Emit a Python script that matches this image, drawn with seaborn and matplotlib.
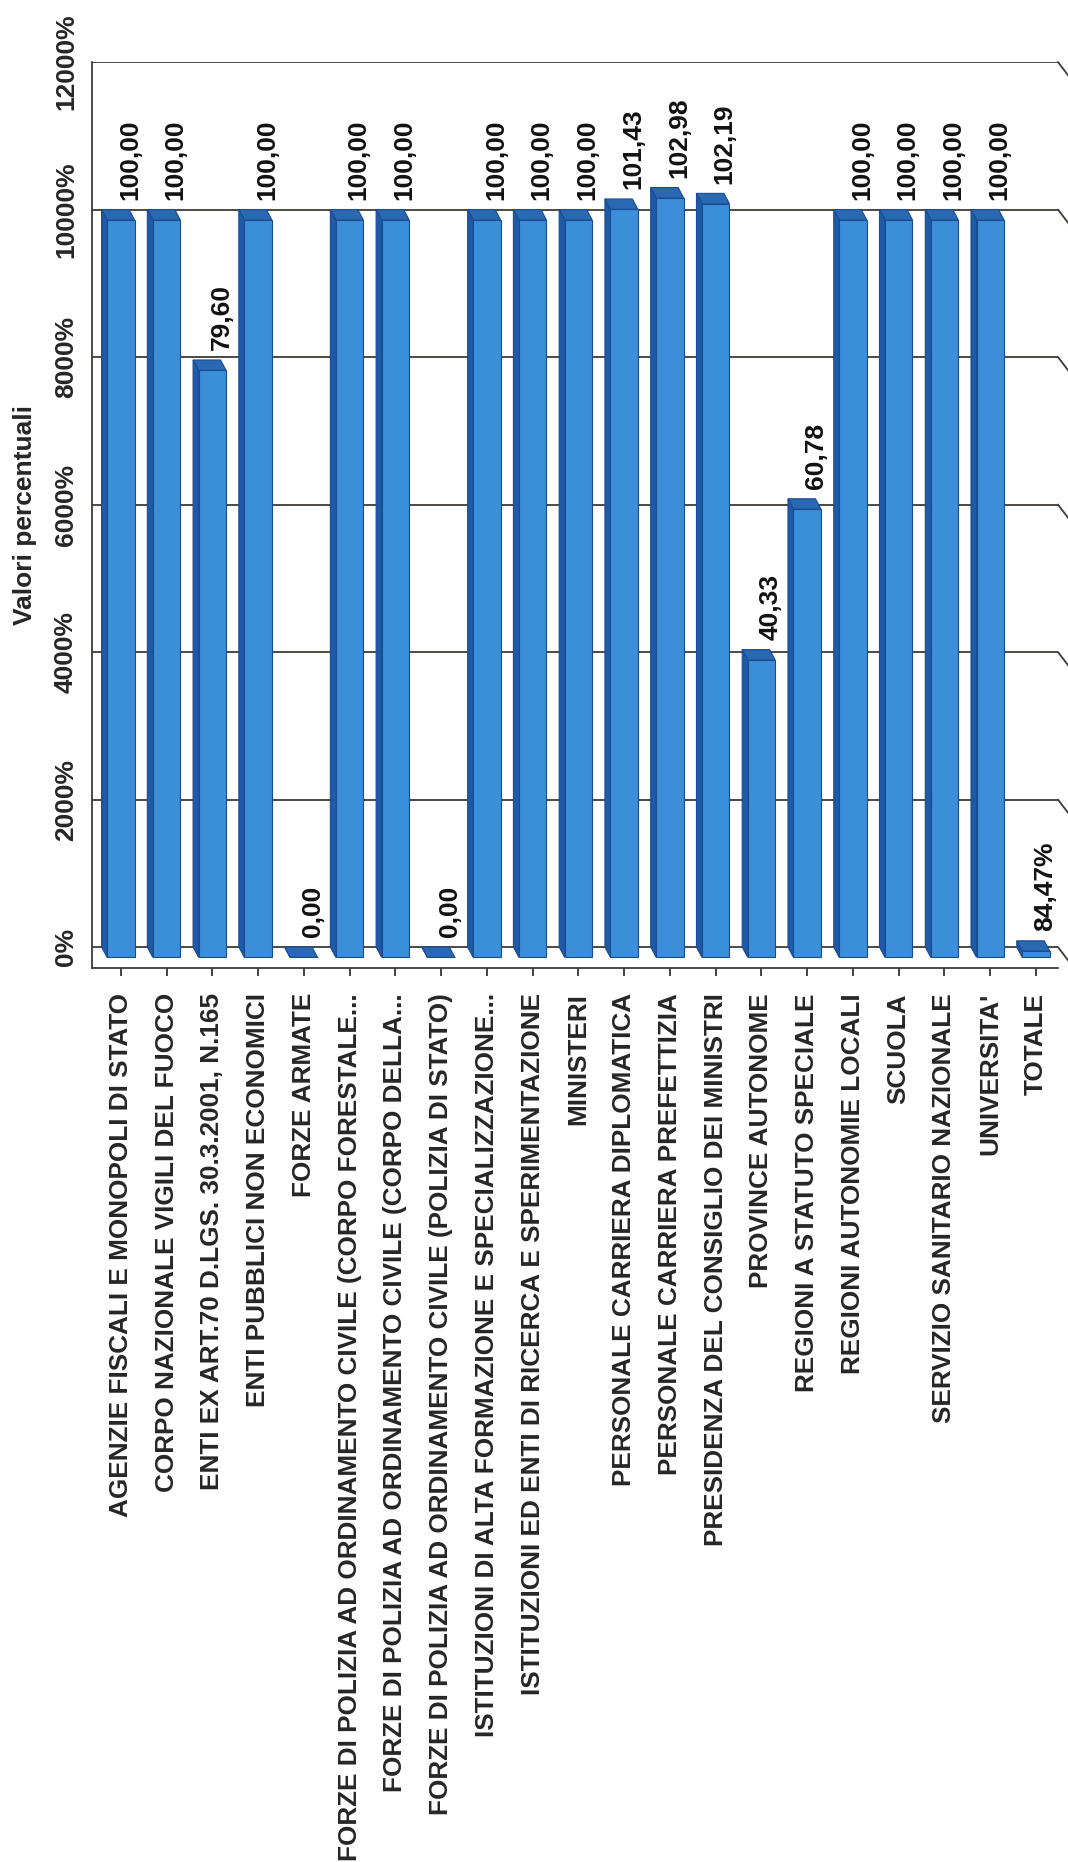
import matplotlib
matplotlib.use("Agg")
import matplotlib.pyplot as plt
import seaborn as sns
import pandas as pd
from matplotlib.patches import Polygon
from matplotlib.ticker import FuncFormatter

# ------------------------------------------------
# DATA
# ------------------------------------------------

categories = [
    "AGENZIE FISCALI E MONOPOLI DI STATO",
    "CORPO NAZIONALE VIGILI DEL FUOCO",
    "ENTI EX ART.70 D.LGS. 30.3.2001, N.165",
    "ENTI PUBBLICI NON ECONOMICI",
    "FORZE ARMATE",
    "FORZE DI POLIZIA AD ORDINAMENTO CIVILE (CORPO FORESTALE...",
    "FORZE DI POLIZIA AD ORDINAMENTO CIVILE (CORPO DELLA...",
    "FORZE DI POLIZIA AD ORDINAMENTO CIVILE (POLIZIA DI STATO)",
    "ISTITUZIONI DI ALTA FORMAZIONE E SPECIALIZZAZIONE...",
    "ISTITUZIONI ED ENTI DI RICERCA E SPERIMENTAZIONE",
    "MINISTERI",
    "PERSONALE CARRIERA DIPLOMATICA",
    "PERSONALE CARRIERA PREFETTIZIA",
    "PRESIDENZA DEL CONSIGLIO DEI MINISTRI",
    "PROVINCE AUTONOME",
    "REGIONI A STATUTO SPECIALE",
    "REGIONI AUTONOMIE LOCALI",
    "SCUOLA",
    "SERVIZIO SANITARIO NAZIONALE",
    "UNIVERSITA'",
    "TOTALE",
]

values = [100.00, 100.00, 79.60, 100.00, 0.00, 100.00, 100.00, 0.00,
          100.00, 100.00, 100.00, 101.43, 102.98, 102.19, 40.33, 60.78,
          100.00, 100.00, 100.00, 100.00, 0.8447]

y_ticks = [0, 20, 40, 60, 80, 100, 120]

# ------------------------------------------------
# STYLE
# ------------------------------------------------

sns.set_theme(style="white")
plt.rcParams["font.family"] = ["Liberation Sans", "DejaVu Sans"]
plt.rcParams["font.weight"] = "bold"

FRONT = "#3b8ed8"
SIDE = "#1d5aa8"
TOP = "#2a68b2"
EDGE = "#1a4c94"
LINE = "#3f3a36"
DX = 0.12      # depth in category units
DY = 1.4       # depth in value units
FLOOR = 2.85   # floor depth in value units

df = pd.DataFrame({"categoria": categories, "valore": values})

fig = plt.figure(figsize=(10.68, 18.62), dpi=100)
ax = fig.add_axes([0.0861, 0.4801, 0.9045, 0.4866])

sns.barplot(data=df, x="categoria", y="valore", color=FRONT,
            saturation=1, width=0.6, ax=ax, zorder=3)

# fake 3D: push front faces down, add top and side faces
for p in ax.patches:
    x0 = p.get_x()
    w = p.get_width()
    h = p.get_height()
    p.set_y(-DY)
    p.set_edgecolor(EDGE)
    p.set_linewidth(0.8)
    p.set_clip_on(False)
    top = Polygon([(x0, h - DY), (x0 + w, h - DY), (x0 + w - DX, h), (x0 - DX, h)],
                  closed=True, facecolor=TOP, edgecolor=EDGE, lw=0.8,
                  zorder=4, clip_on=False)
    side = Polygon([(x0 - DX, 0), (x0, -DY), (x0, h - DY), (x0 - DX, h)],
                   closed=True, facecolor=SIDE, edgecolor=EDGE, lw=0.8,
                   zorder=4, clip_on=False)
    ax.add_patch(top)
    ax.add_patch(side)

# value labels
for i, v in enumerate(values):
    if categories[i] == "TOTALE":
        txt = f"{v * 100:.2f}%".replace(".", ",")
    else:
        txt = f"{v:.2f}".replace(".", ",")
    ax.annotate(txt, (i + 0.2, v), xytext=(0, 7), textcoords="offset points",
                rotation=90, ha="center", va="bottom", fontsize=19,
                fontweight="bold", color="#111111", zorder=6)

# axes / grid
x_lo, x_hi = -0.63, 20.48
ax.set_xlim(x_lo, x_hi)
ax.set_ylim(-FLOOR, 120)
ax.set_yticks(y_ticks)
ax.yaxis.set_major_formatter(FuncFormatter(lambda v, _: f"{v * 100:.0f}%"))
for t in y_ticks:
    ax.axhline(t, color=LINE, lw=1.3, zorder=1)
    # right wall slant of the 3D grid
    ax.plot([x_hi, x_hi + 0.35], [t, t - FLOOR], color=LINE, lw=1.3,
            clip_on=False, zorder=1)

ax.set_xlabel("")
ax.set_ylabel("Valori percentuali", fontsize=19, fontweight="bold", labelpad=12)
ax.tick_params(axis="y", length=0, pad=10, labelsize=19, labelrotation=90)
for lab in ax.get_yticklabels():
    lab.set_va("center")
    lab.set_fontweight("bold")
ax.tick_params(axis="x", length=6, width=1.2, direction="out", pad=12,
               labelsize=18.8, labelrotation=90, color="#222222", bottom=True)
for lab in ax.get_xticklabels():
    lab.set_fontweight("bold")
    lab.set_va("top")
    lab.set_ha("center")

for s in ["right", "top"]:
    ax.spines[s].set_visible(False)
for s in ["left", "bottom"]:
    ax.spines[s].set_color(LINE)
    ax.spines[s].set_linewidth(1.3)

fig.savefig("out.png", dpi=100)
